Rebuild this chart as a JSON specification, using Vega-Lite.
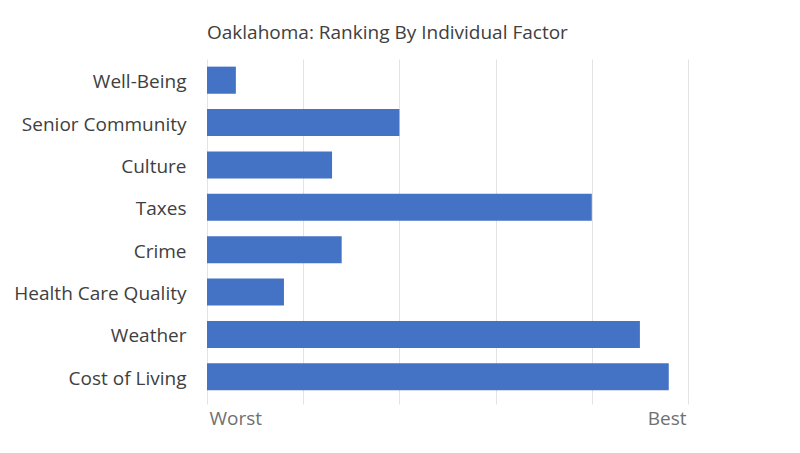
{
  "$schema": "https://vega.github.io/schema/vega-lite/v6.json",
  "width": 481,
  "height": 339,
  "autosize": {"type": "none"},
  "padding": {"left": 207, "top": 59, "right": 112, "bottom": 55},
  "background": "white",
  "title": {
    "text": "Oaklahoma: Ranking By Individual Factor",
    "anchor": "start",
    "frame": "group",
    "font": "Open Sans",
    "fontSize": 19,
    "fontWeight": "normal",
    "color": "#404040",
    "offset": 16
  },
  "data": {
    "values": [
      {"factor": "Well-Being", "rank": 3},
      {"factor": "Senior Community", "rank": 20},
      {"factor": "Culture", "rank": 13},
      {"factor": "Taxes", "rank": 40},
      {"factor": "Crime", "rank": 14},
      {"factor": "Health Care Quality", "rank": 8},
      {"factor": "Weather", "rank": 45},
      {"factor": "Cost of Living", "rank": 48}
    ]
  },
  "mark": {"type": "bar", "color": "#4472C4"},
  "encoding": {
    "y": {
      "field": "factor",
      "type": "nominal",
      "sort": null,
      "scale": {"paddingInner": 0.36, "paddingOuter": 0.18},
      "axis": {
        "title": null,
        "ticks": false,
        "domain": false,
        "labelFont": "Open Sans",
        "labelFontSize": 19,
        "labelColor": "#404040",
        "labelPadding": 21,
        "labelOffset": 2
      }
    },
    "x": {
      "field": "rank",
      "type": "quantitative",
      "scale": {"domain": [0, 50], "nice": false},
      "axis": {
        "title": null,
        "values": [0, 10, 20, 30, 40, 50],
        "labelExpr": "datum.value == 0 ? 'Worst' : (datum.value == 50 ? 'Best' : '')",
        "labelFlush": true,
        "labelFlushOffset": -2,
        "labelFont": "Open Sans",
        "labelFontSize": 19,
        "labelColor": "#707070",
        "labelPadding": 5,
        "grid": true,
        "gridColor": "#e3e3e3",
        "tickColor": "#e3e3e3",
        "tickSize": 6,
        "domain": false
      }
    }
  },
  "config": {"view": {"stroke": null}}
}
